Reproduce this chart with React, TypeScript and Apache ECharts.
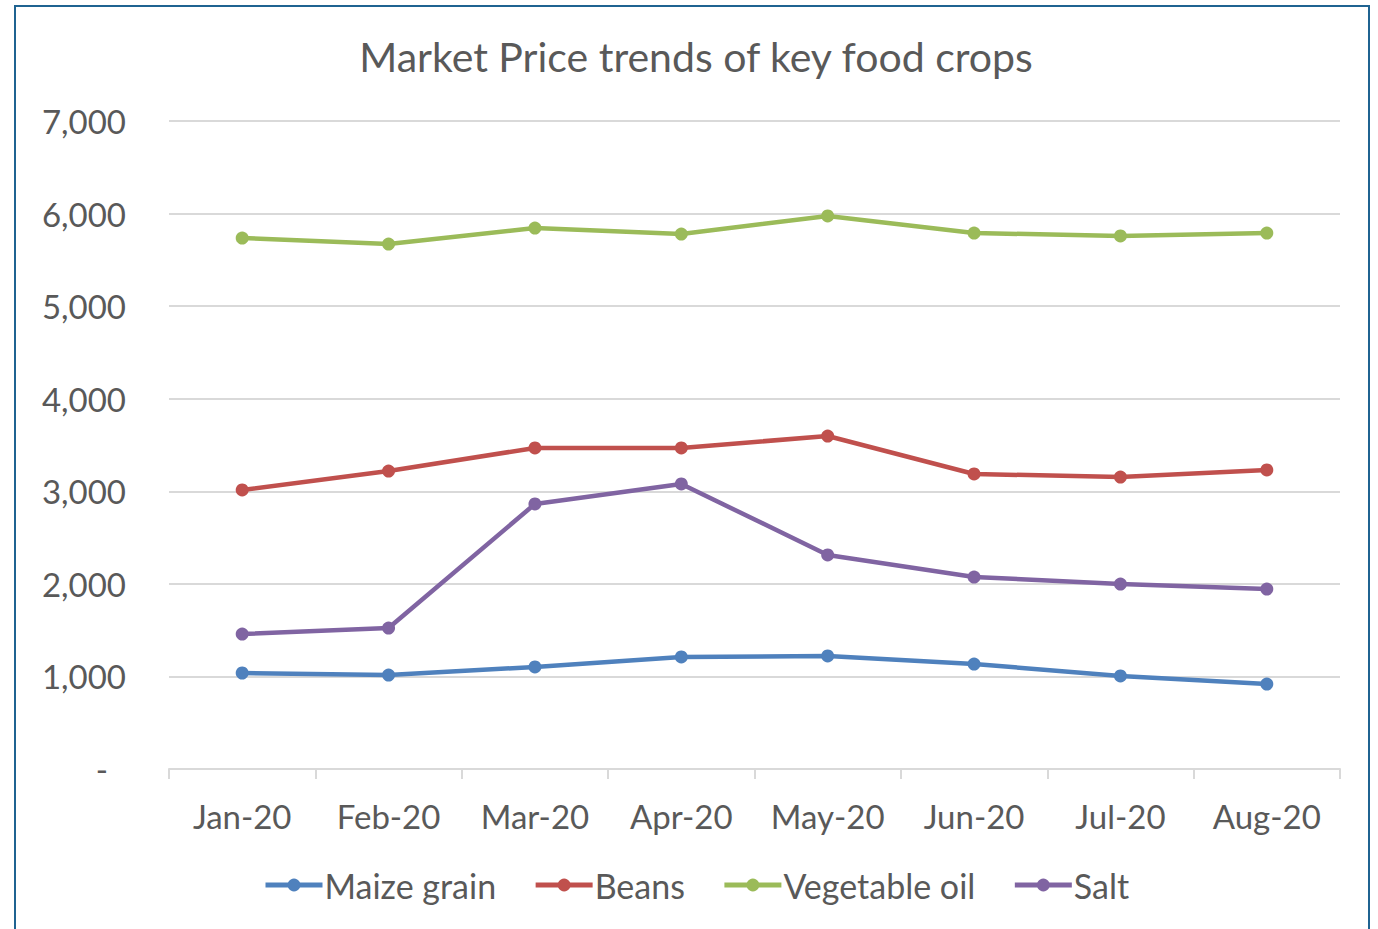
import React, { useEffect, useRef } from "react";
import * as echarts from "echarts";

const categories = ["Jan-20", "Feb-20", "Mar-20", "Apr-20", "May-20", "Jun-20", "Jul-20", "Aug-20"];
const maizeGrain = [1037, 1015, 1102, 1210, 1221, 1134, 1005, 918];
const beans = [3014, 3219, 3468, 3468, 3597, 3187, 3154, 3230];
const vegetableOil = [5736, 5671, 5844, 5779, 5974, 5790, 5758, 5790];
const salt = [1458, 1523, 2863, 3079, 2312, 2074, 1998, 1944];

const FONT = "Lato, 'Open Sans', sans-serif";
const TEXT = "#595959";

export default function App() {
  const ref = useRef<HTMLDivElement>(null);
  useEffect(() => {
    if (!ref.current) return;
    const chart = echarts.init(ref.current, undefined, { renderer: "svg" });
    const mk = (name: string, data: number[], color: string) => ({
      name,
      type: "line",
      data,
      symbol: "circle",
      symbolSize: 13,
      itemStyle: { color },
      lineStyle: { color, width: 4.5 },
    });
    chart.setOption({
      animation: false,
      backgroundColor: "#ffffff",
      title: {
        text: "Market Price trends of key food crops",
        left: 691,
        textAlign: "center",
        top: 31,
        textStyle: { fontFamily: FONT, fontSize: 41, fontWeight: "normal", color: TEXT },
      },
      graphic: [
        {
          type: "rect",
          shape: { x: 15, y: 6, width: 1354, height: 960 },
          style: { fill: "none", stroke: "#1F6391", lineWidth: 2 },
          silent: true,
        },
      ],
      grid: { left: 169, right: 38, top: 121, bottom: 160 },
      legend: {
        bottom: 27,
        left: 263,
        padding: 0,
        itemWidth: 57,
        itemHeight: 16,
        itemGap: 37,
        lineStyle: { width: 5 },
        textStyle: { fontFamily: FONT, fontSize: 34, color: TEXT, padding: [0, 0, 0, -3] },
        data: ["Maize grain", "Beans", "Vegetable oil", "Salt"],
      },
      xAxis: {
        type: "category",
        data: categories,
        boundaryGap: true,
        axisLine: { lineStyle: { color: "#d9d9d9", width: 2 } },
        axisTick: { show: true, interval: 0, length: 10, lineStyle: { color: "#d9d9d9", width: 2 } },
        axisLabel: { interval: 0, fontFamily: FONT, fontSize: 33, color: TEXT, margin: 30 },
      },
      yAxis: {
        type: "value",
        min: 0,
        max: 7000,
        interval: 1000,
        axisLine: { show: false },
        axisTick: { show: false },
        splitLine: { lineStyle: { color: "#d9d9d9", width: 2 } },
        axisLabel: {
          fontFamily: FONT,
          fontSize: 33,
          color: TEXT,
          margin: 43,
          formatter: (v: number) => (v === 0 ? "{z|-}" : v.toLocaleString("en-US")),
          rich: { z: { fontFamily: FONT, fontSize: 33, color: TEXT, padding: [0, 18, 0, 0] } },
        },
      },
      series: [
        mk("Maize grain", maizeGrain, "#4F81BD"),
        mk("Beans", beans, "#C0504D"),
        mk("Vegetable oil", vegetableOil, "#9BBB59"),
        mk("Salt", salt, "#8064A2"),
      ],
    });
    return () => chart.dispose();
  }, []);
  return (
    <div
      ref={ref}
      style={{ position: "fixed", left: 0, top: 0, width: 1378, height: 929 }}
    />
  );
}
